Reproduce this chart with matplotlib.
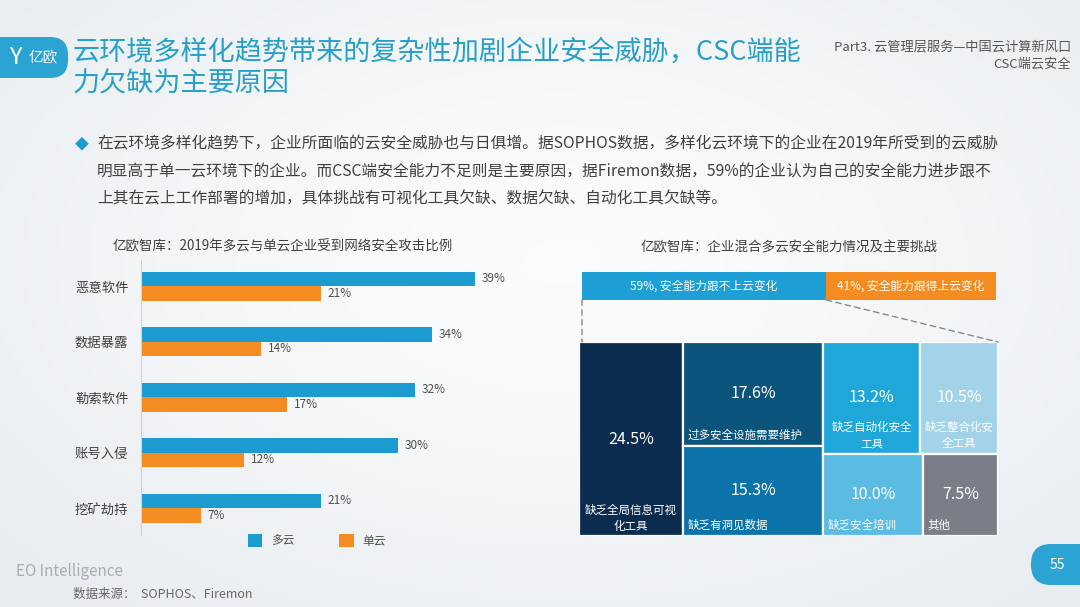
import numpy as np
import matplotlib
matplotlib.use('Agg')
import matplotlib.pyplot as plt
from matplotlib.patches import FancyBboxPatch, Rectangle, ConnectionPatch

plt.rcParams['font.family'] = ['Noto Sans CJK SC', 'DejaVu Sans']

# ---------------- data ----------------
categories = ['恶意软件', '数据暴露', '勒索软件', '账号入侵', '挖矿劫持']
multi_cloud = [39, 34, 32, 30, 21]
single_cloud = [21, 14, 17, 12, 7]
series_names = ['多云', '单云']

capability_labels = ['安全能力跟不上云变化', '安全能力跟得上云变化']
capability_values = [59, 41]

challenge_labels = ['缺乏全局信息可视\n化工具', '过多安全设施需要维护', '缺乏有洞见数据',
                    '缺乏自动化安全\n工具', '缺乏整合化安\n全工具', '缺乏安全培训', '其他']
challenge_values = [24.5, 17.6, 15.3, 13.2, 10.5, 10.0, 7.5]
# treemap grouping: columns -> rows -> cell indices
challenge_layout = [[[0]], [[1], [2]], [[3, 4], [5, 6]]]
challenge_colors = ['#0c2c4f', '#0b557d', '#0c73aa', '#1fa7d9', '#a3d3e9', '#5abbe3', '#7a7e89']

title_lines = ['云环境多样化趋势带来的复杂性加剧企业安全威胁，CSC端能', '力欠缺为主要原因']
bullet_lines = [
    '在云环境多样化趋势下，企业所面临的云安全威胁也与日俱增。据SOPHOS数据，多样化云环境下的企业在2019年所受到的云威胁',
    '明显高于单一云环境下的企业。而CSC端安全能力不足则是主要原因，据Firemon数据，59%的企业认为自己的安全能力进步跟不',
    '上其在云上工作部署的增加，具体挑战有可视化工具欠缺、数据欠缺、自动化工具欠缺等。',
]

BLUE = '#1c9bd1'
ORANGE = '#f48c22'
TEAL = '#27a0c8'
W, H = 1080, 607


def fig_rect(x0, y0, x1, y1):
    return [x0 / W, 1 - y1 / H, (x1 - x0) / W, (y1 - y0) / H]


fig = plt.figure(figsize=(W / 100, H / 100), dpi=100)
fig.patch.set_facecolor('#eef1f4')

# background / overlay axes in pixel coordinates
bg = fig.add_axes([0, 0, 1, 1])
bg.set_xlim(0, W)
bg.set_ylim(H, 0)
bg.axis('off')
yy, xx = np.mgrid[0:H:4, 0:W:4]
grad = np.exp(-(((xx - 560) / 700.0) ** 2 + ((yy - 260) / 420.0) ** 2))
bg.imshow(grad, extent=[0, W, H, 0], cmap=matplotlib.colors.LinearSegmentedColormap.from_list(
    'g', ['#e8ecf0', '#fafbfc']), aspect='auto', zorder=0)

# logo
bg.add_patch(FancyBboxPatch((-30, 37), 98, 41, boxstyle='round,pad=0,rounding_size=18',
                            fc='#2ba3d3', ec='none', zorder=2))
bg.text(15, 58, 'Y', color='white', fontsize=17, ha='center', va='center',
        fontweight='light', zorder=3)
bg.text(43, 58, '亿欧', color='white', fontsize=10.5, ha='center', va='center',
        fontweight='light', zorder=3)

# title
bg.text(73, 52, title_lines[0], color=TEAL, fontsize=19.5, ha='left', va='center',
        fontweight='light', zorder=3)
bg.text(73, 84, title_lines[1], color=TEAL, fontsize=19.5, ha='left', va='center',
        fontweight='light', zorder=3)

# header right
bg.text(1071, 47, 'Part3. 云管理层服务—中国云计算新风口', color='#555555', fontsize=9.5,
        ha='right', va='center', fontweight='light', zorder=3)
bg.text(1071, 64, 'CSC端云安全', color='#555555', fontsize=9.5, ha='right', va='center',
        fontweight='light', zorder=3)

# bullet text
bg.text(82, 144, '◆', color=BLUE, fontsize=10, ha='center', va='center', zorder=3)
for i, line in enumerate(bullet_lines):
    bg.text(97, 144 + i * 27.5, line, color='#404040', fontsize=11.3, ha='left', va='center', zorder=3)

# chart titles
bg.text(283, 246, '亿欧智库：2019年多云与单云企业受到网络安全攻击比例', color='#404040',
        fontsize=9.7, ha='center', va='center', zorder=3)
bg.text(789, 247, '亿欧智库：企业混合多云安全能力情况及主要挑战', color='#404040',
        fontsize=9.7, ha='center', va='center', zorder=3)

# footer
bg.text(16, 571, 'EO Intelligence', color='#a9adb2', fontsize=11, ha='left', va='center',
        fontweight='light', zorder=3)
bg.text(73, 594, '数据来源：  SOPHOS、Firemon', color='#666666', fontsize=9, ha='left', va='center',
        fontweight='light', zorder=3)
bg.add_patch(FancyBboxPatch((1031, 544), 80, 41, boxstyle='round,pad=0,rounding_size=20',
                            fc='#2ba3d3', ec='none', zorder=2))
bg.text(1057, 565, '55', color='white', fontsize=10, ha='center', va='center', zorder=3)

# ---------------- left bar chart ----------------
px_per = (475 - 141) / 39.0
ax = fig.add_axes(fig_rect(141, 260, 141 + 45 * px_per, 535))
ax.patch.set_alpha(0)
y = np.arange(len(categories))
h = 14.5 / 55.5
b1 = ax.barh(y - h / 2, multi_cloud, height=h, color=BLUE, label=series_names[0])
b2 = ax.barh(y + h / 2, single_cloud, height=h, color=ORANGE, label=series_names[1])
for bars, vals in ((b1, multi_cloud), (b2, single_cloud)):
    for rect, v in zip(bars, vals):
        ax.annotate(f'{v}%', (rect.get_width(), rect.get_y() + rect.get_height() / 2),
                    xytext=(5, 0), textcoords='offset points', va='center', ha='left',
                    fontsize=8.5, color='#505050')
ax.set_xlim(0, 45)
ax.set_ylim(4 + 27 / 55.5, -26 / 55.5)
ax.set_yticks(y, categories)
ax.tick_params(axis='y', length=0, pad=9, labelsize=9.6, labelcolor='#404040')
ax.set_xticks([])
for s in ('top', 'right', 'bottom'):
    ax.spines[s].set_visible(False)
ax.spines['left'].set_color('#cfd3d7')
ax.spines['left'].set_linewidth(0.8)
leg = ax.legend(loc='center', bbox_to_anchor=(317 / W, 1 - 541 / H), bbox_transform=fig.transFigure,
                ncol=2, frameon=False, fontsize=8.5, handlelength=1.2, handleheight=1.2,
                handletextpad=0.75, columnspacing=3.8, borderpad=0)
for t in leg.get_texts():
    t.set_color('#505050')

# ---------------- right: capability bar ----------------
axc = fig.add_axes(fig_rect(582, 272, 996, 300))
axc.patch.set_alpha(0)
left = 0
cap_colors = ['#1e9fd6', '#f48c22']
for lab, v, c in zip(capability_labels, capability_values, cap_colors):
    axc.barh(0, v, left=left, height=1, color=c)
    axc.text(left + v / 2, 0, f'{v}%, {lab}', color='white', fontsize=8.5, ha='center', va='center')
    left += v
axc.set_xlim(0, sum(capability_values))
axc.set_ylim(-0.5, 0.5)
axc.axis('off')

# ---------------- right: treemap ----------------
axt = fig.add_axes(fig_rect(579, 342, 998, 536))
axt.patch.set_alpha(0)
total = sum(challenge_values)
axt.set_xlim(0, total)
axt.set_ylim(1, 0)
axt.axis('off')
x0 = 0
for col in challenge_layout:
    col_sum = sum(challenge_values[i] for row in col for i in row)
    cw = col_sum
    y0 = 0
    for row in col:
        row_sum = sum(challenge_values[i] for i in row)
        rh = row_sum / col_sum
        cx = x0
        for i in row:
            w = challenge_values[i] / row_sum * cw
            axt.add_patch(Rectangle((cx, y0), w, rh, fc=challenge_colors[i], ec='white', lw=1.6))
            axt.text(cx + w / 2, y0 + rh / 2, f'{challenge_values[i]:.1f}%', color='white',
                     fontsize=11.5, ha='center', va='center', fontweight='light')
            if '\n' in challenge_labels[i]:
                axt.annotate(challenge_labels[i], (cx + w / 2, y0 + rh), xytext=(0, 2.5),
                             textcoords='offset points', ha='center', va='bottom',
                             multialignment='center', color='white', fontsize=8.3, linespacing=1.3)
            else:
                axt.annotate(challenge_labels[i], (cx, y0 + rh), xytext=(3.5, 3),
                             textcoords='offset points', ha='left', va='bottom',
                             color='white', fontsize=8.3)
            cx += w
        y0 += rh
    x0 += cw

# dashed connectors
for xa, xb in ((0, (582 - 579) / 419), (capability_values[0], 1.0)):
    con = ConnectionPatch(xyA=(xa, -0.5), coordsA=axc.transData, xyB=(xb, 1.0), coordsB=axt.transAxes,
                          color='#7d8c99', lw=1.0, linestyle=(0, (4, 3)))
    fig.add_artist(con)

fig.savefig('out.png', dpi=100)
